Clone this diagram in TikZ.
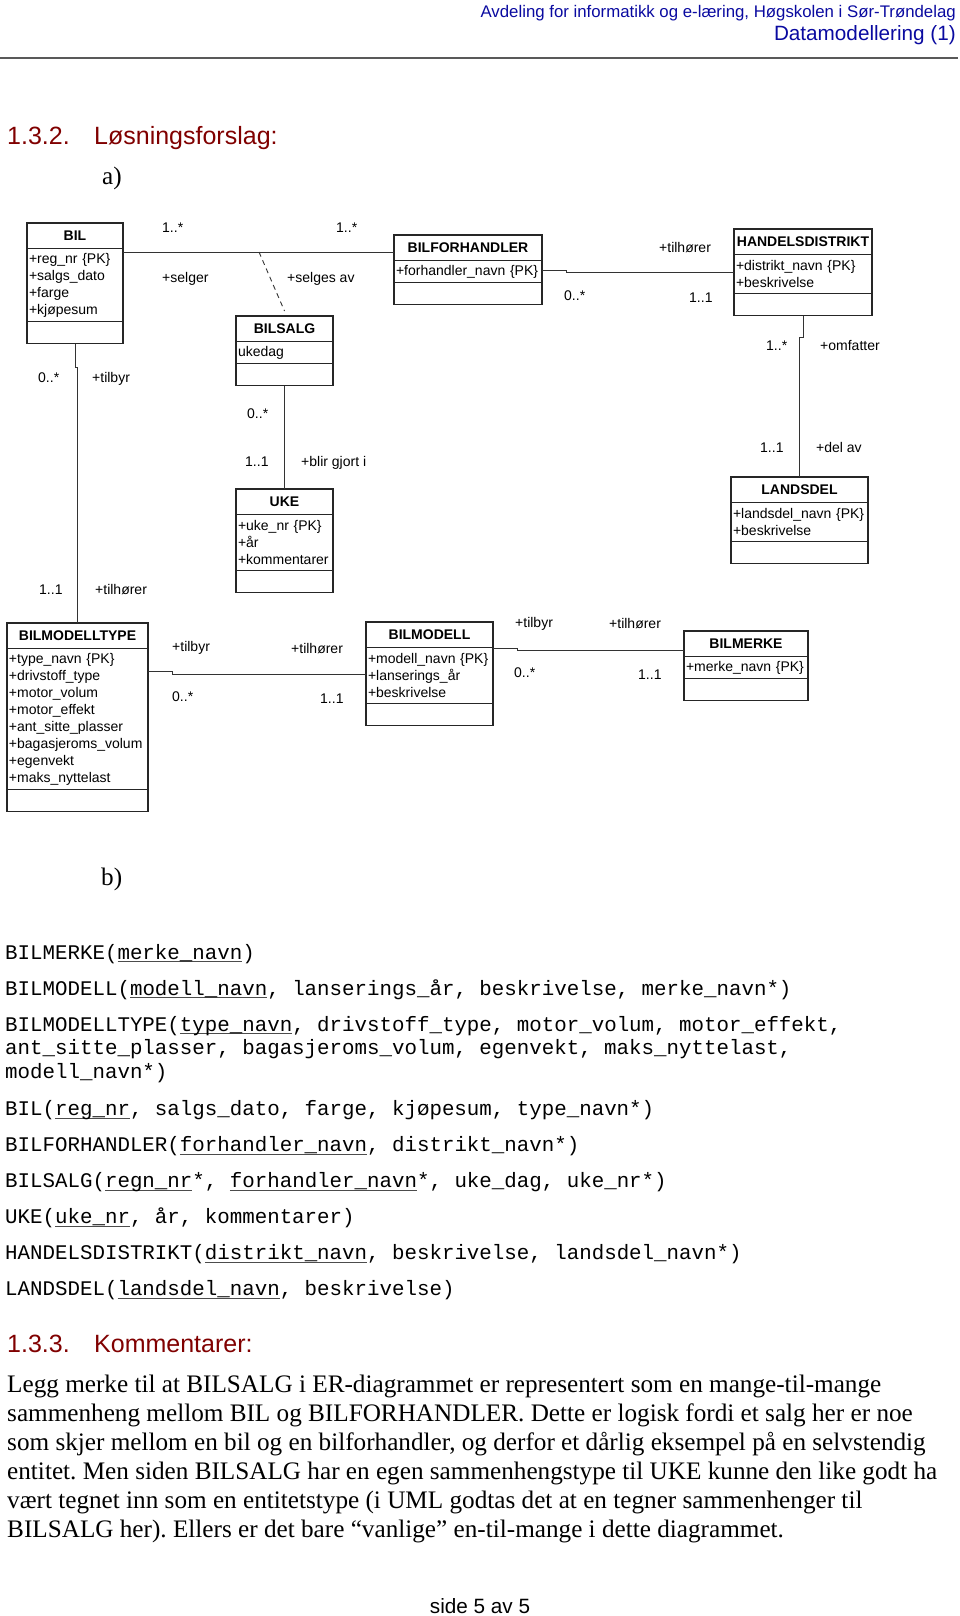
\documentclass[tikz,border=0pt]{standalone}
\usepackage{fontspec}
\setmainfont{Liberation Sans}
\newfontfamily\tekstfont{Liberation Serif}
\newfontfamily\kodefont{Liberation Mono}
\usetikzlibrary{positioning}
\definecolor{topblaa}{RGB}{10,10,160}
\definecolor{overskrift}{RGB}{128,0,0}
\newcommand{\nokkel}[1]{\setbox0\hbox{#1}\rlap{\color{black!70}\rule[-3.3pt]{\wd0}{0.9pt}}\box0}
\frenchspacing
\tikzset{
	klasse/.style={draw=black!85, line width=1.2pt, outer sep=0pt, font=\fontsize{14}{17}\selectfont},
	tittel/.style={klasse, font=\fontsize{14}{17}\selectfont\bfseries, inner sep=0pt, minimum height=25.5pt, anchor=north},
	felt/.style={klasse, align=left, inner xsep=2pt, inner ysep=0pt, minimum height=#1*17pt+5pt},
	metoder/.style={klasse, inner sep=0pt, minimum height=22pt},
	rolle/.style={font=\fontsize{14}{17}\selectfont, inner sep=0pt, anchor=base west},
	kant/.style={draw=black!80, line width=1pt},
	kode/.style={font=\kodefont\fontsize{20.8}{24}\selectfont, inner sep=0pt, anchor=base west},
	overskriftstil/.style={overskrift, font=\fontsize{25}{29}\selectfont, inner sep=0pt, anchor=base west},
	bokstav/.style={font=\tekstfont\fontsize{25.2}{29}\selectfont, inner sep=0pt, anchor=base west}
}
\begin{document}
\begin{tikzpicture}[x=1pt, y=-1pt]
	\useasboundingbox (0,0) rectangle (960,1616);

	% topptekst
	\node (avdeling) [anchor=base east, inner sep=0pt, topblaa, font=\fontsize{16.8}{20}\selectfont] at (956,17.5) {Avdeling for informatikk og e-læring, Høgskolen i Sør-Trøndelag};
	\node (emne) [anchor=base east, inner sep=0pt, topblaa, font=\fontsize{20.7}{24}\selectfont] at (956,41) {Datamodellering (1)};
	\draw [black!65, line width=1.5pt] (0,58) -- (958,58);

	\node (nrA) [overskriftstil] at (7,145) {1.3.2.};
	\node (losning) [overskriftstil] at (94,145) {Løsningsforslag:};
	\node (delA) [bokstav] at (102,185) {a)};

	% klasser
	\node (BIL) [tittel, minimum width=96pt] at (75,223) {BIL};
	\node (BILattr) [felt=4, text width=92pt, below=0pt of BIL] {+reg\_nr \{PK\}\\+salgs\_dato\\+farge\\+kjøpesum};
	\node (BILops) [metoder, minimum width=96pt, below=0pt of BILattr] {};

	\node (BILSALG) [tittel, minimum width=97pt] at (284.5,316) {BILSALG};
	\node (BILSALGattr) [felt=1, text width=93pt, below=0pt of BILSALG] {ukedag};
	\node (BILSALGops) [metoder, minimum width=97pt, below=0pt of BILSALGattr] {};

	\node (UKE) [tittel, minimum width=97pt] at (284.5,489) {UKE};
	\node (UKEattr) [felt=3, text width=93pt, below=0pt of UKE] {+uke\_nr \{PK\}\\+år\\+kommentarer};
	\node (UKEops) [metoder, minimum width=97pt, below=0pt of UKEattr] {};

	\node (BILFORHANDLER) [tittel, minimum width=148pt] at (468,235) {BILFORHANDLER};
	\node (BILFORHANDLERattr) [felt=1, text width=144pt, below=0pt of BILFORHANDLER] {+forhandler\_navn \{PK\}};
	\node (BILFORHANDLERops) [metoder, minimum width=148pt, below=0pt of BILFORHANDLERattr] {};

	\node (HANDELSDISTRIKT) [tittel, minimum width=138pt] at (803,229) {HANDELSDISTRIKT};
	\node (HANDELSDISTRIKTattr) [felt=2, text width=134pt, below=0pt of HANDELSDISTRIKT] {+distrikt\_navn \{PK\}\\+beskrivelse};
	\node (HANDELSDISTRIKTops) [metoder, minimum width=138pt, below=0pt of HANDELSDISTRIKTattr] {};

	\node (LANDSDEL) [tittel, minimum width=137pt] at (799.5,477) {LANDSDEL};
	\node (LANDSDELattr) [felt=2, text width=133pt, below=0pt of LANDSDEL] {+landsdel\_navn \{PK\}\\+beskrivelse};
	\node (LANDSDELops) [metoder, minimum width=137pt, below=0pt of LANDSDELattr] {};

	\node (BILMODELLTYPE) [tittel, minimum width=141pt] at (77.5,623) {BILMODELLTYPE};
	\node (BILMODELLTYPEattr) [felt=8, text width=137pt, below=0pt of BILMODELLTYPE] {+type\_navn \{PK\}\\+drivstoff\_type\\+motor\_volum\\+motor\_effekt\\+ant\_sitte\_plasser\\+bagasjeroms\_volum\\+egenvekt\\+maks\_nyttelast};
	\node (BILMODELLTYPEops) [metoder, minimum width=141pt, below=0pt of BILMODELLTYPEattr] {};

	\node (BILMODELL) [tittel, minimum width=127pt] at (429.5,622) {BILMODELL};
	\node (BILMODELLattr) [felt=3, text width=123pt, below=0pt of BILMODELL] {+modell\_navn \{PK\}\\+lanserings\_år\\+beskrivelse};
	\node (BILMODELLops) [metoder, minimum width=127pt, below=0pt of BILMODELLattr] {};

	\node (BILMERKE) [tittel, minimum width=124pt] at (746,631) {BILMERKE};
	\node (BILMERKEattr) [felt=1, text width=120pt, below=0pt of BILMERKE] {+merke\_navn \{PK\}};
	\node (BILMERKEops) [metoder, minimum width=124pt, below=0pt of BILMERKEattr] {};

	% sammenhenger
	\draw [kant] (BILattr.east |- 0,252) -- (BILFORHANDLER.west |- 0,252);
	\coordinate (salg) at (259,252);
	\draw [kant, line width=0.9pt, dash pattern=on 5pt off 4pt] (salg) -- ([yshift=5pt]BILSALG.north);
	\draw [kant] (BILSALGops.south) -- (UKE.north);
	\draw [kant] (BILops.south) -- ++(0,24) -| (BILMODELLTYPE.north);
	\draw [kant] (BILMODELLTYPEattr.east |- 0,671) -- ++(24,0) |- (BILMODELLattr.west |- 0,674);
	\draw [kant] (BILMODELLattr.east |- 0,648) -- ++(24,0) |- (BILMERKE.west |- 0,650);
	\draw [kant] (BILFORHANDLERattr.east |- 0,270) -- ++(24,0) |- (HANDELSDISTRIKTattr.west |- 0,272);
	\draw [kant] (HANDELSDISTRIKTops.south) -- ++(0,22) -| (LANDSDEL.north);

	% roller og multiplisitet
	\node (m1) [rolle] at (162,232) {1..*};
	\node (m2) [rolle] at (336,232) {1..*};
	\node (r1) [rolle] at (162,282) {+selger};
	\node (r2) [rolle] at (287,282) {+selges av};
	\node (m3) [rolle] at (38,382) {0..*};
	\node (r3) [rolle] at (92,382) {+tilbyr};
	\node (m4) [rolle] at (247,418) {0..*};
	\node (m5) [rolle] at (245,466) {1..1};
	\node (r4) [rolle] at (301,466) {+blir gjort i};
	\node (m6) [rolle] at (39,594) {1..1};
	\node (r5) [rolle] at (95,594) {+tilhører};
	\node (r6) [rolle] at (659,252) {+tilhører};
	\node (m7) [rolle] at (564,300) {0..*};
	\node (m8) [rolle] at (689,302) {1..1};
	\node (m9) [rolle] at (766,350) {1..*};
	\node (r7) [rolle] at (820,350) {+omfatter};
	\node (m10) [rolle] at (760,452) {1..1};
	\node (r8) [rolle] at (816,452) {+del av};
	\node (r9) [rolle] at (172,651) {+tilbyr};
	\node (r10) [rolle] at (291,653) {+tilhører};
	\node (m11) [rolle] at (172,701) {0..*};
	\node (m12) [rolle] at (320,703) {1..1};
	\node (r11) [rolle] at (515,627) {+tilbyr};
	\node (r12) [rolle] at (609,628) {+tilhører};
	\node (m13) [rolle] at (514,677) {0..*};
	\node (m14) [rolle] at (638,679) {1..1};

	% relasjonsmodell
	\node (delB) [bokstav] at (101,885) {b)};
	\node (rel1) [kode] at (5,959) {BILMERKE(\nokkel{merke\_navn})};
	\node (rel2) [kode] at (5,995) {BILMODELL(\nokkel{modell\_navn}, lanserings\_år, beskrivelse, merke\_navn*)};
	\node (rel3) [kode] at (5,1031) {BILMODELLTYPE(\nokkel{type\_navn}, drivstoff\_type, motor\_volum, motor\_effekt,};
	\node (rel3b) [kode] at (5,1054.5) {ant\_sitte\_plasser, bagasjeroms\_volum, egenvekt, maks\_nyttelast,};
	\node (rel3c) [kode] at (5,1078) {modell\_navn*)};
	\node (rel4) [kode] at (5,1115.5) {BIL(\nokkel{reg\_nr}, salgs\_dato, farge, kjøpesum, type\_navn*)};
	\node (rel5) [kode] at (5,1151.5) {BILFORHANDLER(\nokkel{forhandler\_navn}, distrikt\_navn*)};
	\node (rel6) [kode] at (5,1187.5) {BILSALG(\nokkel{regn\_nr}*, \nokkel{forhandler\_navn}*, uke\_dag, uke\_nr*)};
	\node (rel7) [kode] at (5,1223.5) {UKE(\nokkel{uke\_nr}, år, kommentarer)};
	\node (rel8) [kode] at (5,1259.5) {HANDELSDISTRIKT(\nokkel{distrikt\_navn}, beskrivelse, landsdel\_navn*)};
	\node (rel9) [kode] at (5,1295.5) {LANDSDEL(\nokkel{landsdel\_navn}, beskrivelse)};

	% kommentarer
	\node (nrB) [overskriftstil] at (7,1352) {1.3.3.};
	\node (komm) [overskriftstil] at (94,1352) {Kommentarer:};
	\node (kommentar) [anchor=north west, inner sep=0pt, align=left, font=\tekstfont\fontsize{25.2}{28.9}\selectfont] at (7,1372.7) {\rule{0pt}{20pt}Legg merke til at BILSALG i ER-diagrammet er representert som en mange-til-mange\\sammenheng mellom BIL og BILFORHANDLER. Dette er logisk fordi et salg her er noe\\som skjer mellom en bil og en bilforhandler, og derfor et dårlig eksempel på en selvstendig\\entitet. Men siden BILSALG har en egen sammenhengstype til UKE kunne den like godt ha\\vært tegnet inn som en entitetstype (i UML godtas det at en tegner sammenhenger til\\BILSALG her). Ellers er det bare “vanlige” en-til-mange i dette diagrammet.};

	\node (sidetall) [anchor=base, inner sep=0pt, font=\fontsize{20.7}{24}\selectfont] at (480,1613) {side 5 av 5};
\end{tikzpicture}
\end{document}
